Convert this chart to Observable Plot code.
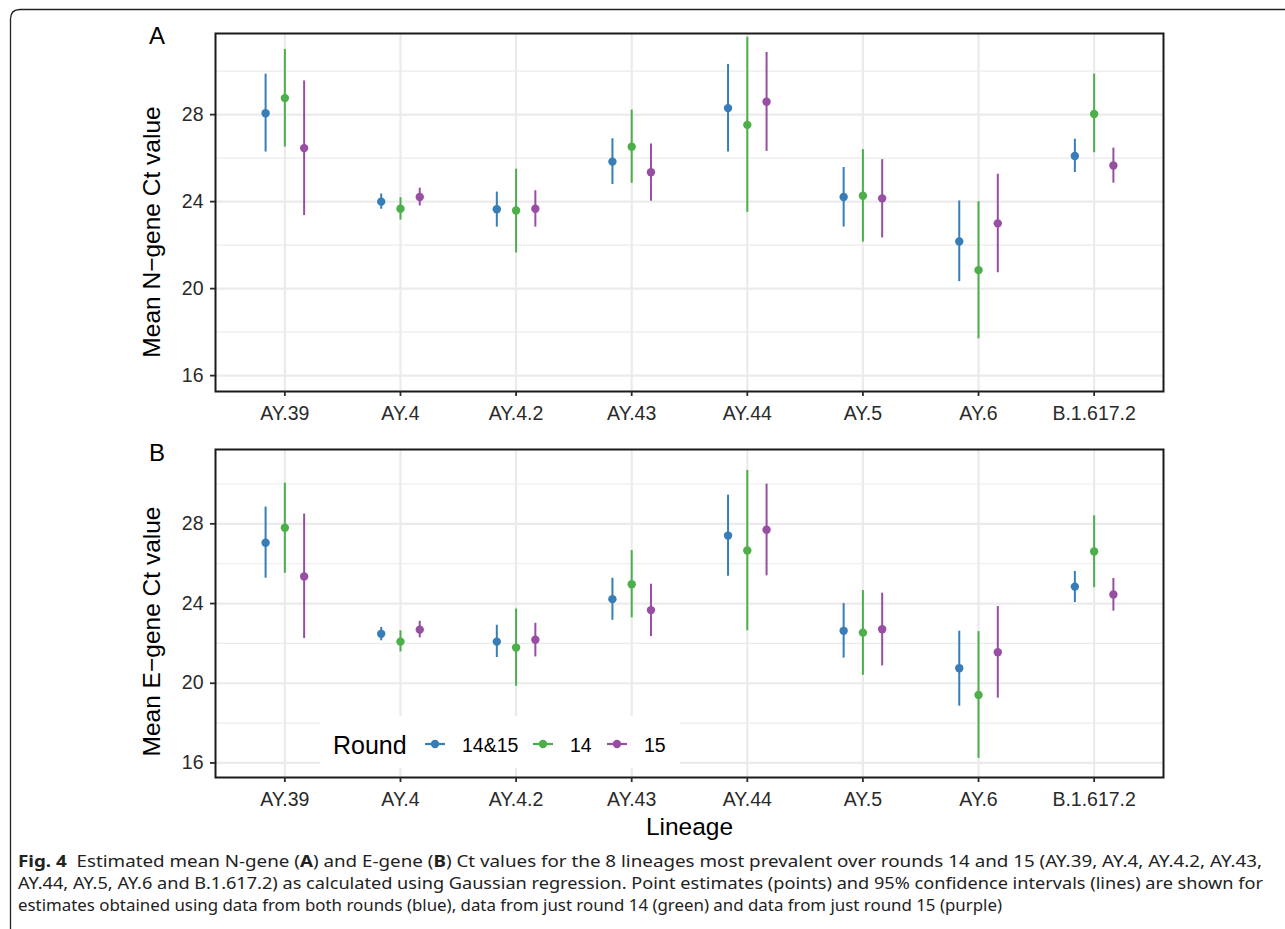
<!DOCTYPE html>
<html><head><meta charset="utf-8">
<script src="https://cdn.jsdelivr.net/npm/d3@7"></script>
<script src="https://cdn.jsdelivr.net/npm/@observablehq/plot@0.6"></script>
<style>
body{margin:0;background:#fff;}
#wrap{position:relative;width:1285px;height:929px;overflow:hidden;background:#fff;font-family:"Liberation Sans",Arial,Helvetica,sans-serif;}
#wrap > svg{position:absolute;left:0;}
</style></head><body><div id="wrap"></div>
<script>
// ---- data ----
const lineages = ["AY.39","AY.4","AY.4.2","AY.43","AY.44","AY.5","AY.6","B.1.617.2"];
const rounds = ["14&15","14","15"];
const roundColors = ["#377EB8","#4DAF4A","#984EA3"];
const yTicks = [16,20,24,28];
const yMinor = [18,22,26,30];

// N-gene (panel A)
const nMid_1415 = [28.06, 24.00, 23.65, 25.84, 28.30, 24.21, 22.17, 26.10];
const nLo_1415  = [26.28, 23.65, 22.83, 24.79, 26.28, 22.83, 20.32, 25.34];
const nHi_1415  = [29.86, 24.35, 24.44, 26.89, 30.31, 25.57, 24.03, 26.87];
const nMid_14   = [28.76, 23.67, 23.59, 26.52, 27.53, 24.27, 20.85, 28.03];
const nLo_14    = [26.51, 23.15, 21.64, 24.84, 23.51, 22.14, 17.69, 26.25];
const nHi_14    = [31.00, 24.18, 25.49, 28.21, 31.56, 26.39, 24.00, 29.86];
const nMid_15   = [26.46, 24.21, 23.67, 25.35, 28.59, 24.15, 23.00, 25.66];
const nLo_15    = [23.36, 23.80, 22.83, 24.02, 26.31, 22.33, 20.73, 24.85];
const nHi_15    = [29.55, 24.62, 24.50, 26.65, 30.86, 25.93, 25.26, 26.46];

// E-gene (panel B)
const eMid_1415 = [27.05, 22.48, 22.09, 24.22, 27.41, 22.63, 20.75, 24.85];
const eLo_1415  = [25.27, 22.13, 21.29, 23.16, 25.37, 21.26, 18.85, 24.05];
const eHi_1415  = [28.84, 22.80, 22.91, 25.27, 29.44, 24.00, 22.61, 25.61];
const eMid_14   = [27.80, 22.09, 21.79, 24.97, 26.66, 22.54, 19.41, 26.61];
const eLo_14    = [25.52, 21.57, 19.85, 23.28, 22.63, 20.40, 16.23, 24.80];
const eHi_14    = [30.04, 22.63, 23.72, 26.66, 30.68, 24.65, 22.59, 28.40];
const eMid_15   = [25.36, 22.69, 22.18, 23.67, 27.70, 22.71, 21.56, 24.45];
const eLo_15    = [22.24, 22.28, 21.32, 22.34, 25.39, 20.87, 19.25, 23.62];
const eHi_15    = [28.49, 23.11, 23.01, 24.97, 29.99, 24.52, 23.85, 25.26];

const captionLines = [
  [["Fig. 4", true], ["  Estimated mean N-gene (", false], ["A", true], [") and E-gene (", false], ["B", true], [") Ct values for the 8 lineages most prevalent over rounds 14 and 15 (AY.39, AY.4, AY.4.2, AY.43,", false]],
  [["AY.44, AY.5, AY.6 and B.1.617.2) as calculated using Gaussian regression. Point estimates (points) and 95% confidence intervals (lines) are shown for", false]],
  [["estimates obtained using data from both rounds (blue), data from just round 14 (green) and data from just round 15 (purple)", false]]
];

// ---- layout ----
const FONT = "'Liberation Sans', Arial, Helvetica, sans-serif";
const dodgeWidth = 0.5;
const yDomain = [15.27, 31.73];

function buildRows(mids, los, his) {
  const rows = [];
  lineages.forEach((l, i) => rounds.forEach((r, j) => {
    rows.push({x: i + (j - (rounds.length - 1) / 2) * dodgeWidth / rounds.length,
               round: r, mid: mids[j][i], lo: los[j][i], hi: his[j][i]});
  }));
  return rows;
}

function panel(rows, {height, marginTop, marginBottom, ytitle, ytitleDy, xtitle}) {
  const marks = [
    Plot.ruleY(yMinor, {stroke: "#EBEBEB", strokeWidth: 1.1}),
    Plot.ruleY(yTicks, {stroke: "#EBEBEB", strokeWidth: 2.2}),
    Plot.ruleX(d3.range(lineages.length), {stroke: "#EBEBEB", strokeWidth: 2.2}),
    Plot.ruleX(rows, {x: "x", y1: "lo", y2: "hi", stroke: "round", strokeWidth: 2}),
    Plot.dot(rows, {x: "x", y: "mid", fill: "round", r: 4.2}),
    Plot.frame({stroke: "#1a1a1a", strokeWidth: 2}),
    Plot.axisY(yTicks, {tickSize: 5, tickPadding: 7, fontSize: 19.5, label: null, color: "#2a2a2a", strokeWidth: 1.8}),
    Plot.axisX(d3.range(lineages.length), {tickSize: 5, tickPadding: 10, fontSize: 19.5, label: null, color: "#2a2a2a", strokeWidth: 1.8, tickFormat: i => lineages[i]}),
    Plot.text([ytitle], {text: d => d, frameAnchor: "left", textAnchor: "middle", lineAnchor: "middle", rotate: -90, dx: -63, dy: ytitleDy, fontSize: 24.5, fill: "#000"})
  ];
  if (xtitle) marks.push(Plot.text([xtitle], {text: d => d, frameAnchor: "bottom", textAnchor: "middle", lineAnchor: "bottom", dy: 57, fontSize: 24.5, fill: "#000"}));
  return Plot.plot({
    width: 1285, height, marginLeft: 215, marginRight: 122, marginTop, marginBottom,
    style: {fontFamily: FONT, background: "transparent", overflow: "visible"},
    x: {domain: [-0.6, lineages.length - 0.4], axis: null},
    y: {domain: yDomain, axis: null},
    color: {domain: rounds, range: roundColors},
    marks
  });
}

const wrap = document.getElementById("wrap");
const rowsA = buildRows([nMid_1415, nMid_14, nMid_15], [nLo_1415, nLo_14, nLo_15], [nHi_1415, nHi_14, nHi_15]);
const rowsB = buildRows([eMid_1415, eMid_14, eMid_15], [eLo_1415, eLo_14, eLo_15], [eHi_1415, eHi_14, eHi_15]);
const pA = panel(rowsA, {height: 431, marginTop: 33, marginBottom: 40, ytitle: "Mean N\u2212gene Ct value", ytitleDy: 19.5});
const pB = panel(rowsB, {height: 406, marginTop: 18, marginBottom: 60, ytitle: "Mean E\u2212gene Ct value", ytitleDy: 18, xtitle: "Lineage"});
pA.style.top = "0px";
pB.style.top = "431px";
wrap.appendChild(pA);
wrap.appendChild(pB);

// ---- overlay: figure frame, panel tags, legend, caption ----
const ov = d3.select(wrap).append("svg").attr("width", 1285).attr("height", 929)
  .style("position", "absolute").style("top", "0px").style("left", "0px");
ov.append("path").attr("d", "M10.5,929 L10.5,19 Q10.5,9.5 20,9.5 L1285,9.5")
  .attr("fill", "none").attr("stroke", "#222").attr("stroke-width", 1.3);
ov.append("text").attr("x", 149).attr("y", 44).attr("font-family", FONT).attr("font-size", 24).text("A");
ov.append("text").attr("x", 149).attr("y", 461).attr("font-family", FONT).attr("font-size", 24).text("B");

// legend
const lg = ov.append("g").attr("font-family", FONT);
lg.append("rect").attr("x", 320).attr("y", 716).attr("width", 360).attr("height", 52).attr("fill", "#fff");
lg.append("text").attr("x", 333).attr("y", 754).attr("font-size", 25).text("Round");
const keyX = [425, 533, 607];
rounds.forEach((r, j) => {
  const g = lg.append("g");
  g.append("line").attr("x1", keyX[j]).attr("x2", keyX[j] + 20).attr("y1", 744).attr("y2", 744)
    .attr("stroke", roundColors[j]).attr("stroke-width", 2.2);
  g.append("circle").attr("cx", keyX[j] + 10).attr("cy", 744).attr("r", 4.2).attr("fill", roundColors[j]);
  g.append("text").attr("x", keyX[j] + 37).attr("y", 751.5).attr("font-size", 19.5).text(r);
});

// caption
const capLen = [1244, 1245, 984];
const capY = [867, 889, 911];
captionLines.forEach((parts, k) => {
  const t = ov.append("text").attr("x", 18).attr("y", capY[k]).attr("font-family", "'Noto Sans','Open Sans',sans-serif")
    .attr("font-size", 16).attr("fill", "#222").attr("textLength", capLen[k]).attr("lengthAdjust", "spacingAndGlyphs")
    .style("white-space", "pre").attr("xml:space", "preserve");
  parts.forEach(([s, b]) => t.append("tspan").attr("font-weight", b ? "bold" : "normal").text(s));
});
</script></body></html>
